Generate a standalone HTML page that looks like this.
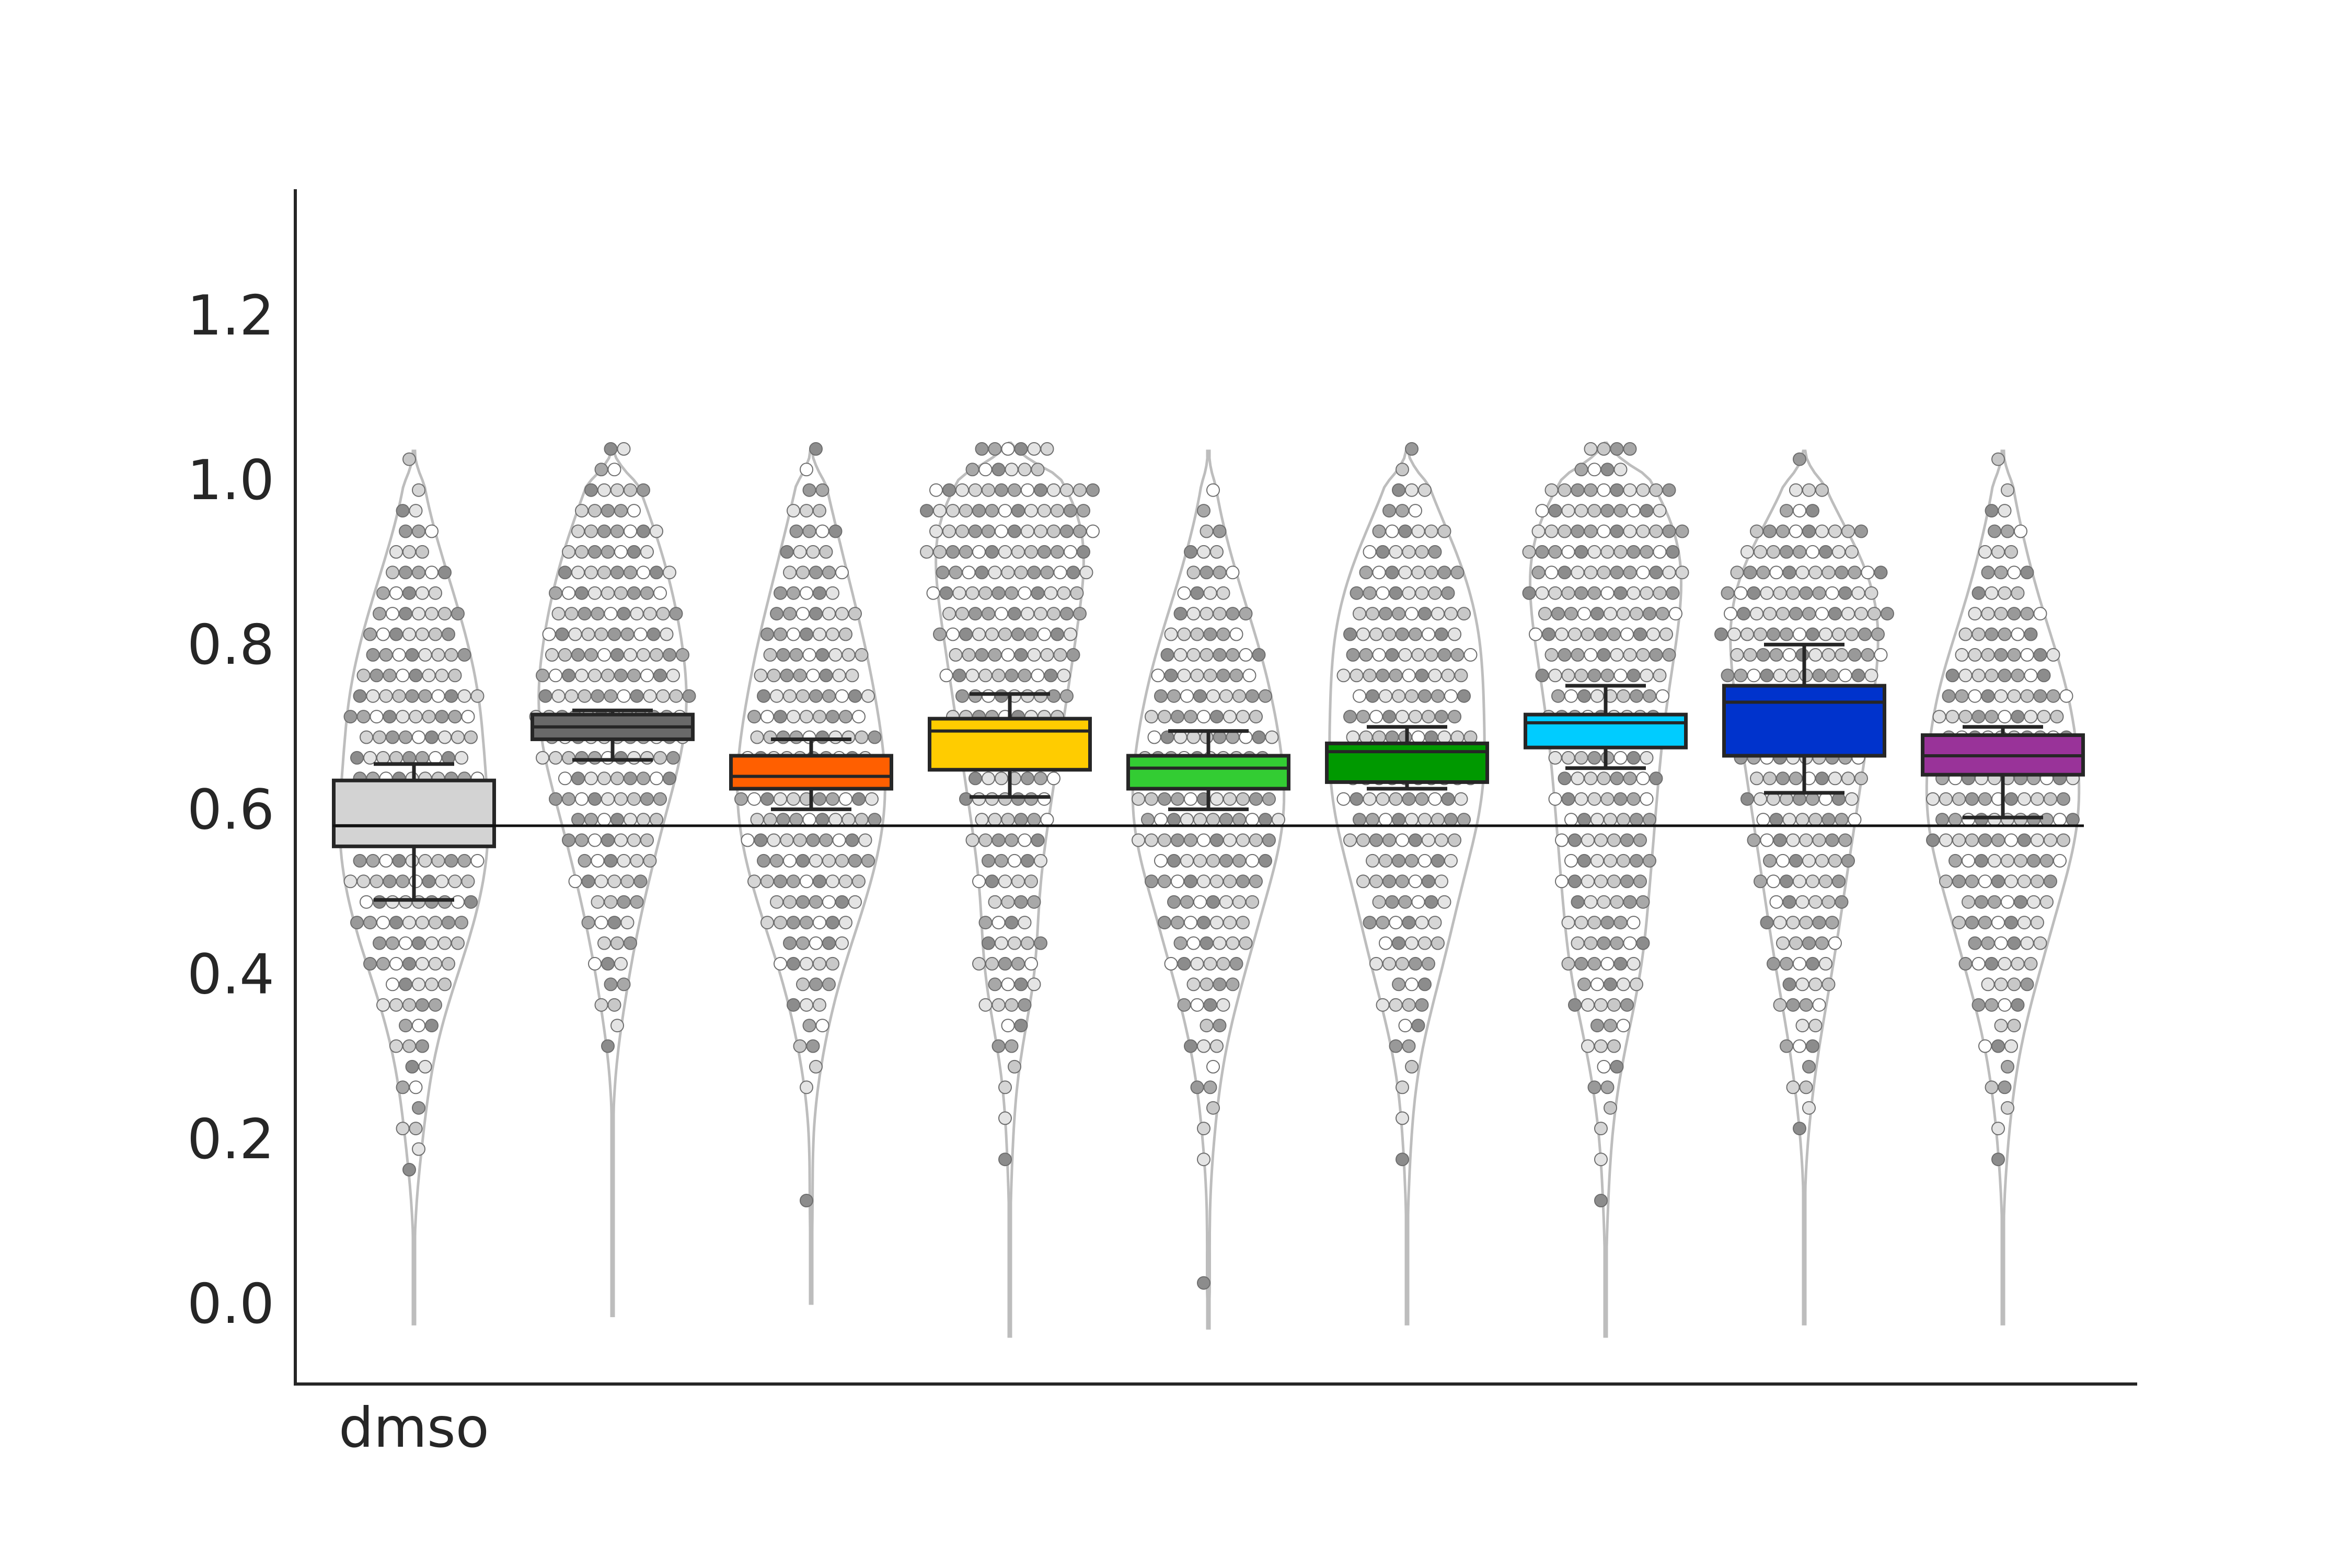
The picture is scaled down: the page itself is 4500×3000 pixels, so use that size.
<!DOCTYPE html>
<html><head><meta charset="utf-8"><style>html,body{margin:0;padding:0;background:#fff}svg{display:block}</style></head>
<body>
<svg id="chart" width="4500" height="3000" viewBox="0 0 4500 3000" xmlns="http://www.w3.org/2000/svg" font-family="'DejaVu Sans','Liberation Sans',sans-serif">
<rect width="4500" height="3000" fill="#fff"/>
<g id="violins"></g>
<g id="points"></g>
<g id="boxes"></g>
<g id="axes"></g>
</svg>
<script>
const categories = ["dmso","g2","g3","g4","g5","g6","g7","g8","g9"];
const xTickLabels = ["dmso","","","","","","","",""];
const boxColors = ["#d3d3d3","#696969","#ff5f00","#ffcc00","#33cc33","#009900","#00ccff","#0033cc","#993399"];
const q1 = [0.555,0.685,0.625,0.648,0.625,0.633,0.675,0.665,0.642];
const median = [0.58,0.70,0.64,0.695,0.65,0.67,0.705,0.73,0.665];
const q3 = [0.635,0.715,0.665,0.71,0.665,0.68,0.715,0.75,0.69];
const whiskLo = [0.49,0.66,0.60,0.615,0.60,0.625,0.65,0.62,0.59];
const whiskHi = [0.655,0.72,0.685,0.74,0.695,0.70,0.75,0.80,0.70];
const violinMin = [-0.025,-0.015,0.0,-0.04,-0.03,-0.025,-0.04,-0.025,-0.025];
const violinMax = [1.035,1.035,1.035,1.045,1.035,1.035,1.045,1.035,1.035];
const refLine = 0.58;
const yTicks = [0.0,0.2,0.4,0.6,0.8,1.0,1.2];
const binStart = 0.0, binSize = 0.05;
const counts0 = [0,0,0,2,3,4,6,10,14,18,20,22,20,18,20,16,14,10,6,3,1];
const counts1 = [0,0,0,0,0,0,2,4,6,8,12,14,18,22,24,22,20,18,14,10,4];
const counts2 = [0,0,1,0,0,2,4,6,10,14,18,20,22,20,18,16,14,10,8,5,2];
const counts3 = [0,0,0,1,1,2,4,8,10,8,10,12,14,16,18,20,22,24,26,26,12];
const counts4 = [1,0,0,1,2,3,5,8,12,14,18,22,22,20,18,16,12,8,5,2,0];
const counts5 = [0,0,0,1,1,2,4,7,10,12,14,18,20,20,18,20,18,16,12,6,2];
const counts6 = [0,0,1,1,2,4,6,10,12,12,14,14,16,16,18,20,22,24,24,20,8];
const counts7 = [0,0,0,0,2,3,5,8,10,12,14,16,18,20,22,24,26,24,18,6,1];
const counts8 = [0,0,0,1,2,3,5,8,12,14,18,22,22,20,20,16,12,8,6,3,1];
const allCounts = [counts0,counts1,counts2,counts3,counts4,counts5,counts6,counts7,counts8];

const NS="http://www.w3.org/2000/svg";
const X0=792, DX=380;
function xPos(i){return X0+i*DX;}
function yPos(v){return 2494 - v*1576;}
function mk(tag,attrs,parent){const e=document.createElementNS(NS,tag);for(const k in attrs)e.setAttribute(k,attrs[k]);parent.appendChild(e);return e;}
const gV=document.getElementById('violins'),gP=document.getElementById('points'),gB=document.getElementById('boxes'),gA=document.getElementById('axes');
const shades=['#8c8c8c','#a8a8a8','#c8c8c8','#e4e4e4','#ffffff','#999999','#d6d6d6'];

categories.forEach((c,i)=>{
  const cx=xPos(i), cnt=allCounts[i];
  const mx=Math.max(...cnt);
  const steps=120, pts=[];
  for(let s=0;s<=steps;s++){
    const v=violinMin[i]+(violinMax[i]-violinMin[i])*s/steps;
    let d=0;
    cnt.forEach((n,b)=>{const bc=binStart+(b+0.5)*binSize;const w=Math.exp(-Math.pow((v-bc)/0.06,2)/2);d+=n*w;});
    const t=Math.min(1,(v-violinMin[i])/0.04, (violinMax[i]-v)/0.04);
    const hw=Math.max(2, 123*d/(mx*2.4)*Math.max(0,t));
    pts.push([hw,yPos(v)]);
  }
  let dstr='M'+cx+','+pts[0][1];
  pts.forEach(p=>{dstr+=' L'+(cx+p[0]).toFixed(1)+','+p[1].toFixed(1);});
  for(let k=pts.length-1;k>=0;k--)dstr+=' L'+(cx-pts[k][0]).toFixed(1)+','+pts[k][1].toFixed(1);
  const vp=mk('path',{d:dstr+'Z',fill:'none',stroke:'#bdbdbd','stroke-width':5},gV);
  
  
  let idx=i*7;
  cnt.forEach((n,b)=>{
    if(!n)return;
    const rows=Math.min(2,n);
    for(let r=0;r<rows;r++){
      const nr=Math.floor(n/rows)+(r<n%rows?1:0);
      const v=binStart+b*binSize+binSize*(r+0.5)/rows;
      for(let k=0;k<nr;k++){
        const off=(k-(nr-1)/2)*25+(r%2?9:-9);
        const p=mk('circle',{cx:(cx+off).toFixed(1),cy:yPos(v).toFixed(1),r:12,fill:shades[idx%shades.length],stroke:'#6e6e6e','stroke-width':2},gP);
        
        
        idx+=3;
      }
    }
  });
  const bw=307;
  const w1=mk('line',{x1:cx,x2:cx,y1:yPos(whiskLo[i]),y2:yPos(q1[i]),stroke:'#262626','stroke-width':7},gB);
  
  const w2=mk('line',{x1:cx,x2:cx,y1:yPos(whiskHi[i]),y2:yPos(q3[i]),stroke:'#262626','stroke-width':7},gB);
  
  [whiskLo[i],whiskHi[i]].forEach(v=>{
    const cap=mk('line',{x1:cx-77,x2:cx+77,y1:yPos(v),y2:yPos(v),stroke:'#262626','stroke-width':7},gB);
    
  });
  const rb=mk('rect',{x:cx-bw/2,y:yPos(q3[i]),width:bw,height:yPos(q1[i])-yPos(q3[i]),fill:boxColors[i],stroke:'#262626','stroke-width':7},gB);
  
  const md=mk('line',{x1:cx-bw/2,x2:cx+bw/2,y1:yPos(median[i]),y2:yPos(median[i]),stroke:'#262626','stroke-width':6},gB);
  
});
const rl=mk('line',{x1:xPos(0)-155,x2:xPos(8)+155,y1:yPos(refLine),y2:yPos(refLine),stroke:'#111','stroke-width':5},gB);

const ya=mk('line',{x1:565,x2:565,y1:362,y2:2651,stroke:'#262626','stroke-width':6},gA);

const xa=mk('line',{x1:562,x2:4089,y1:2648,y2:2648,stroke:'#262626','stroke-width':6},gA);

yTicks.forEach(t=>{
  const tx=mk('text',{x:525,y:yPos(t)+37,'text-anchor':'end','font-size':105,fill:'#262626'},gA);
  tx.textContent=t.toFixed(1);
  
});
xTickLabels.forEach((l,i)=>{
  if(!l)return;
  const tx=mk('text',{x:xPos(i),y:2768,'text-anchor':'middle','font-size':105,fill:'#262626'},gA);
  tx.textContent=l;
  
});
</script>
</body></html>
